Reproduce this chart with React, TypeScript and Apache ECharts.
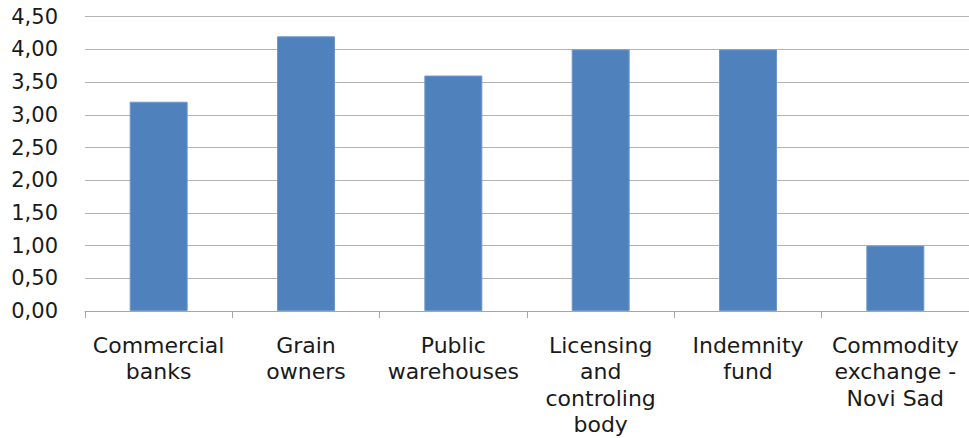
import React, { useEffect, useRef } from "react";
import * as echarts from "echarts";

const categories = [
  "Commercial\nbanks",
  "Grain\nowners",
  "Public\nwarehouses",
  "Licensing\nand\ncontroling\nbody",
  "Indemnity\nfund",
  "Commodity\nexchange -\nNovi Sad",
];
const values = [3.2, 4.2, 3.6, 4.0, 4.0, 1.0];

export default function App() {
  const ref = useRef<HTMLDivElement>(null);
  useEffect(() => {
    document.body.style.margin = "0";
    const chart = echarts.init(ref.current!, undefined, { renderer: "svg" });
    chart.setOption({
      animation: false,
      grid: { left: 85, right: 0, top: 16.7, bottom: 124.7, containLabel: false },
      xAxis: {
        type: "category",
        data: categories,
        axisLine: { show: true, lineStyle: { color: "#a6a6a6", width: 1 } },
        axisTick: { show: true, length: 7, lineStyle: { color: "#a6a6a6" } },
        axisLabel: {
          interval: 0,
          margin: 21,
          fontFamily: "DejaVu Sans",
          fontSize: 22,
          lineHeight: 26.5,
          color: "#1a1a1a",
        },
      },
      yAxis: {
        type: "value",
        min: 0,
        max: 4.5,
        interval: 0.5,
        axisLine: { show: false },
        axisTick: { show: false },
        splitLine: { lineStyle: { color: "#b3b3b3", width: 1 } },
        axisLabel: {
          margin: 27,
          fontFamily: "DejaVu Sans",
          fontSize: 21,
          color: "#1a1a1a",
          formatter: (v: number) => v.toFixed(2).replace(".", ","),
        },
      },
      series: [
        {
          type: "bar",
          data: values,
          barWidth: 58,
          itemStyle: { color: "#4F81BD", borderColor: "#6e98cc", borderWidth: 1 },
        },
      ],
    });
    return () => chart.dispose();
  }, []);
  return <div ref={ref} style={{ width: 969, height: 438 }} />;
}
